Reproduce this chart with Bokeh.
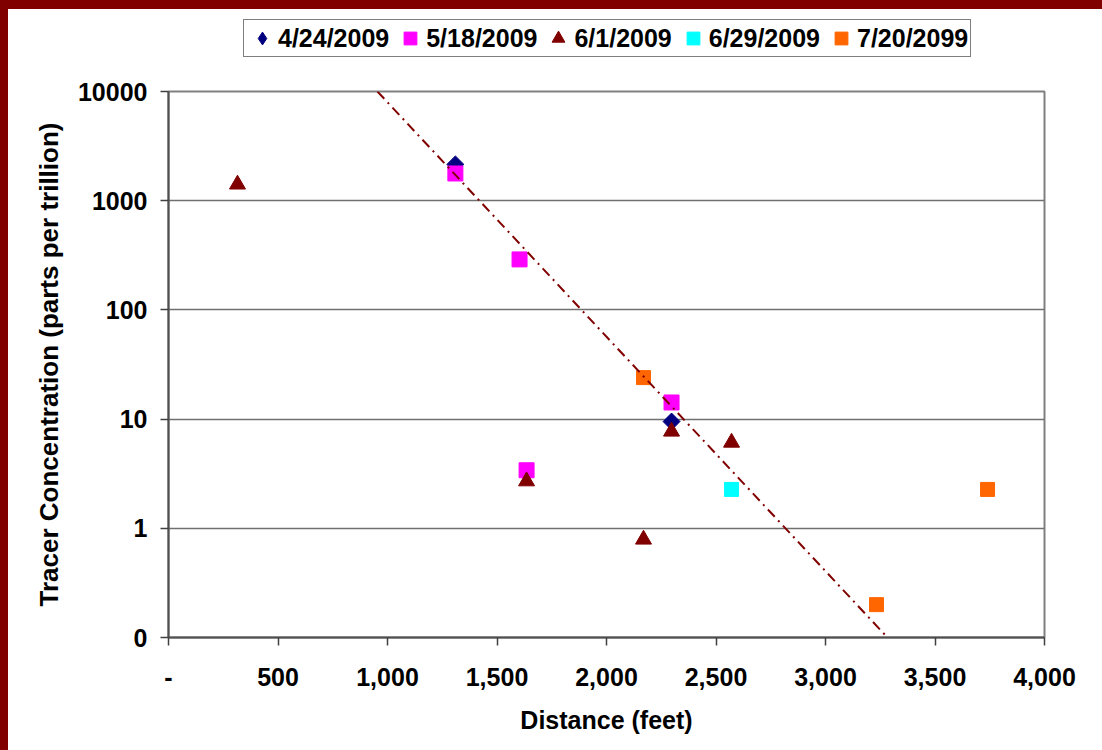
import numpy as np
from bokeh.plotting import figure
from bokeh.layouts import column
from bokeh.models import Range1d, FixedTicker, Legend, LegendItem, Div
from bokeh.embed import file_html
from bokeh.resources import INLINE

# ---------------- data ----------------
series_names = ["4/24/2009", "5/18/2009", "6/1/2009", "6/29/2009", "7/20/2099"]
series_colors = ["#000080", "#FF00FF", "#800000", "#00FFFF", "#FF6600"]
series_markers = ["diamond", "square", "triangle", "square", "square"]

d0424_x = [1310, 2297]
d0424_y = [2150, 9.5]

d0518_x = [1310, 1603, 1635, 2297]
d0518_y = [1775, 290, 3.4, 14.2]

d0601_x = [315, 1635, 2169, 2297, 2571]
d0601_y = [1410, 2.7, 0.79, 7.7, 6.1]

d0629_x = [2571]
d0629_y = [2.27]

d0720_x = [2169, 3233, 3740]
d0720_y = [24, 0.2, 2.27]

# exponential trend line (end points)
trend_x = [954, 3283]
trend_y = [10000, 0.1]

x_ticks = [0, 500, 1000, 1500, 2000, 2500, 3000, 3500, 4000]
x_tick_labels = ["-", "500", "1,000", "1,500", "2,000", "2,500", "3,000", "3,500", "4,000"]
y_ticks = [0.1, 1, 10, 100, 1000, 10000]
y_tick_labels = ["0", "1", "10", "100", "1000", "10000"]

series_x = [d0424_x, d0518_x, d0601_x, d0629_x, d0720_x]
series_y = [d0424_y, d0518_y, d0601_y, d0629_y, d0720_y]

FONT = "Liberation Sans"
FS = "25px"

# ---------------- main chart ----------------
p = figure(width=1102, height=672,
           x_range=Range1d(0, 4000), y_range=Range1d(0.1, 10000),
           y_axis_type="log", output_backend="svg", toolbar_location=None,
           min_border_left=168, min_border_right=58,
           min_border_top=15, min_border_bottom=111)
p.title.visible = False
p.background_fill_color = "white"
p.border_fill_color = "white"
p.outline_line_color = "#808080"
p.outline_line_width = 2

p.xaxis.ticker = FixedTicker(ticks=x_ticks)
p.xaxis.major_label_overrides = {t: l for t, l in zip(x_ticks, x_tick_labels)}
p.yaxis.ticker = FixedTicker(ticks=y_ticks)
p.yaxis.major_label_overrides = {t: l for t, l in zip(y_ticks, y_tick_labels)}
for ax in (p.xaxis[0], p.yaxis[0]):
    ax.axis_line_color = "#505050"
    ax.axis_line_width = 2
    ax.major_tick_line_color = "#404040"
    ax.major_tick_line_width = 1.5
    ax.major_tick_in = 0
    ax.major_tick_out = 8
    ax.minor_tick_line_color = None
    ax.major_label_text_font = FONT
    ax.major_label_text_font_style = "bold"
    ax.major_label_text_font_size = FS
    ax.major_label_text_color = "black"
    ax.axis_label_text_font = FONT
    ax.axis_label_text_font_style = "bold"
    ax.axis_label_text_color = "black"
p.xaxis.axis_label = "Distance (feet)"
p.yaxis.axis_label = "Tracer Concentration (parts per trillion)"
p.xaxis.axis_label_text_font_size = FS
p.yaxis.axis_label_text_font_size = "26px"
p.xaxis.major_label_standoff = 22
p.xaxis.axis_label_standoff = 17
p.yaxis.major_label_standoff = 13
p.yaxis.axis_label_standoff = 11

p.xgrid.visible = False
p.ygrid.ticker = FixedTicker(ticks=y_ticks)
p.ygrid.grid_line_color = "#707070"
p.ygrid.grid_line_width = 1.5

p.scatter(d0424_x, d0424_y, marker="square", angle=np.pi / 4, size=12,
          fill_color=series_colors[0], line_color=series_colors[0])
p.scatter(d0518_x, d0518_y, marker="square", size=15,
          fill_color=series_colors[1], line_color=series_colors[1])
p.scatter(d0601_x, d0601_y, marker="triangle", size=16,
          fill_color=series_colors[2], line_color=series_colors[2])
p.scatter(d0629_x, d0629_y, marker="square", size=14,
          fill_color=series_colors[3], line_color=series_colors[3])
p.scatter(d0720_x, d0720_y, marker="square", size=14,
          fill_color=series_colors[4], line_color=series_colors[4])
p.line(trend_x, trend_y, line_color="#800000", line_width=2, line_dash="10 5 2 5")

# ---------------- legend strip above the chart ----------------
# same series drawn again, but with a y range that keeps the points out of view:
# only the legend of this strip is visible.
lf = figure(width=1102, height=76, x_range=Range1d(0, 4000),
            y_range=Range1d(-2, -1),
            output_backend="svg", toolbar_location=None,
            x_axis_location=None, y_axis_location=None,
            min_border_left=168, min_border_right=58,
            min_border_top=0, min_border_bottom=0)
lf.title.visible = False
lf.grid.visible = False
lf.outline_line_color = None
lf.background_fill_color = "white"
lf.border_fill_color = "white"
lf_renderers = [lf.scatter(sx, sy, marker=m, fill_color=c, line_color=c)
                for sx, sy, m, c in zip(series_x, series_y, series_markers, series_colors)]
legend = Legend(items=[LegendItem(label=n, renderers=[r])
                       for n, r in zip(series_names, lf_renderers)],
                orientation="horizontal", location=(75, 19),
                border_line_color="black", border_line_width=1,
                background_fill_color="white", background_fill_alpha=1,
                padding=2, spacing=5, label_standoff=0, margin=0,
                glyph_width=32, glyph_height=32,
                label_text_font=FONT, label_text_font_style="bold",
                label_text_font_size=FS, label_text_color="black")
lf.add_layout(legend)

# dark red chart frame (left and top edges of the window)
frame_div = Div(text='<div style="position:fixed;left:0;top:0;width:1102px;'
                     'height:750px;box-sizing:border-box;'
                     'border-left:8px solid #800000;border-top:9px solid #800000;'
                     'pointer-events:none;"></div>',
                width=1, height=0)

layout = column(lf, p, frame_div)
open("out.html", "w").write(file_html(layout, INLINE))
